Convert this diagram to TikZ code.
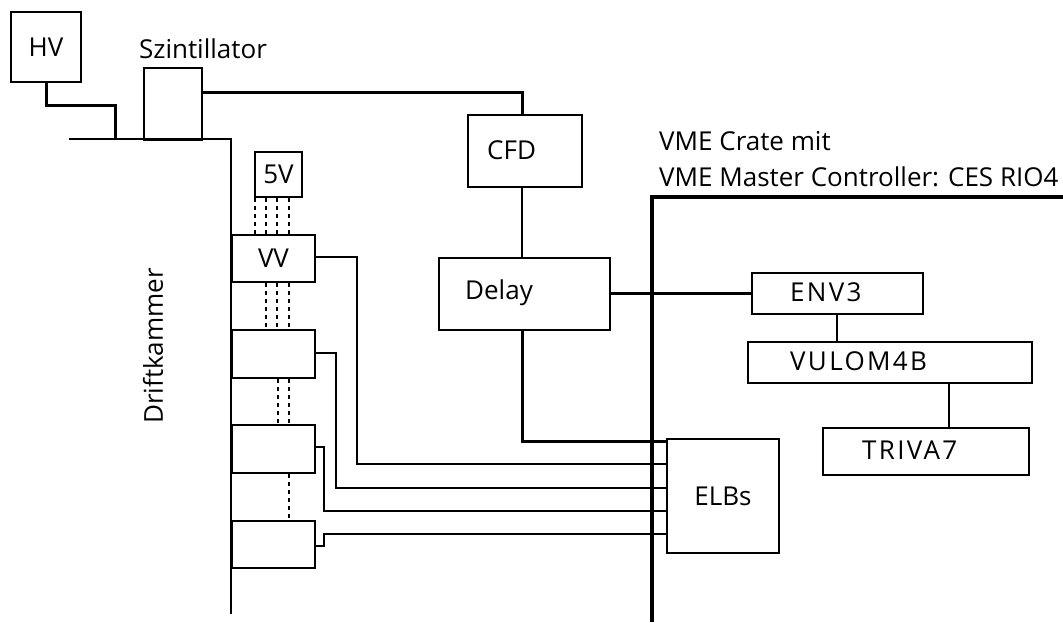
\documentclass[tikz,border=0pt]{standalone}
\usepackage{fontspec}
\setmainfont{Open Sans}
\newfontfamily\wideface{Open Sans}[LetterSpace=9]
\usepackage{tikz}
\usetikzlibrary{positioning,calc}
\tikzset{
  blk/.style={draw,line width=2pt,inner sep=0pt,anchor=north west},
  lbl/.style={inner sep=0pt,font=\fontsize{26}{30}\selectfont},
  widelbl/.style={lbl,font=\fontsize{26}{30}\selectfont\wideface},
  wire/.style={line width=2pt},
  thickwire/.style={line width=3pt},
  crate/.style={line width=3.5pt},
  bus/.style={line width=2.5pt,dash pattern=on 4pt off 4pt}
}
\begin{document}
\begin{tikzpicture}[x=1pt,y=-1pt]
\useasboundingbox (0,0) rectangle (1063,622);
% left part: chamber, scintillator, preamps
\node[blk,minimum width=70pt,minimum height=70pt] (hv) at (10,11) {};
\node[lbl] (hv-t) at (hv.center) {HV};
\node[blk,minimum width=58pt,minimum height=72pt] (szint) at (143,67) {};
\node[lbl] (szint-t) at (203,49) {Szintillator};
\node[blk,minimum width=47pt,minimum height=45pt] (fivev) at (254,151) {};
\node[lbl] (fivev-t) at (fivev.center) {5V};
\node[blk,minimum width=83pt,minimum height=47pt] (vv) at (231,234) {};
\node[lbl] (vv-t) at (vv.center) {VV};
\node[blk,minimum width=83pt,minimum height=48pt] (b2) at (231,329) {};
\node[blk,minimum width=83pt,minimum height=48pt] (b3) at (231,424) {};
\node[blk,minimum width=83pt,minimum height=47pt] (b4) at (231,520) {};
\node[lbl,rotate=90] (drift) at (153,346) {Driftkammer};
% electronics
\node[blk,minimum width=114pt,minimum height=72pt] (cfd) at (467,114) {};
\node[lbl,anchor=west] (cfd-t) at (487,150) {CFD};
\node[blk,minimum width=171pt,minimum height=72pt] (delay) at (438,257) {};
\node[lbl,anchor=west] (delay-t) at (465,293) {Delay};
\node[blk,minimum width=112pt,minimum height=114pt] (elbs) at (666,438) {};
\node[lbl] (elbs-t) at (elbs.center) {ELBs};
\node[blk,minimum width=171pt,minimum height=41pt] (env) at (751,272) {};
\node[widelbl,anchor=west] (env-t) at (790,292) {ENV3};
\node[blk,minimum width=284pt,minimum height=41pt] (vulom) at (747,341) {};
\node[widelbl,anchor=west] (vulom-t) at (790,361) {VULOM4B};
\node[blk,minimum width=206pt,minimum height=47pt] (triva) at (822,427) {};
\node[widelbl,anchor=west] (triva-t) at (862,450) {TRIVA7};
\node[lbl,anchor=base west,align=left] (vme-t) at (659,186) {VME Crate mit\\[6pt]VME Master Controller: CES RIO4};
% crate outline
\coordinate (crate-bot) at (652,622);
\coordinate (crate-top) at (652,197);
\coordinate (crate-end) at (1063,197);
\draw[crate] (crate-bot) -- (crate-top) -- (crate-end);
% chamber wire
\coordinate (ch-left) at (69,139);
\coordinate (ch-bot) at (231,614);
\draw[wire] (ch-left) -- (ch-left -| vv.north west) -- (ch-bot);
% connections
\draw[thickwire] (hv.south) |- (115,105) -- (115,139);
\draw[thickwire] (szint.east |- 0,92) -| (522,0 |- cfd.north);
\draw[wire] (522,0 |- cfd.south) -- (522,0 |- delay.north);
\draw[thickwire] (delay.east |- 0,293) -- (env.west |- 0,293);
\draw[thickwire] (522,0 |- delay.south) |- (elbs.north west |- 0,441);
\draw[wire] (env.south -| 837,0) -- (vulom.north -| 837,0);
\draw[wire] (vulom.south -| 949,0) -- (triva.north -| 949,0);
\draw[wire] (vv.east |- 0,257) -| (357,464) -- (elbs.west |- 0,464);
\draw[wire] (b2.east |- 0,353) -| (336,488) -- (elbs.west |- 0,488);
\draw[wire] (b3.east |- 0,447) -| (324,511) -- (elbs.west |- 0,511);
\draw[wire] (b4.east |- 0,546) -| (324,534) -- (elbs.west |- 0,534);
% supply lines
\foreach \x in {255,266,277,289} \draw[bus] (\x,0 |- fivev.south) -- (\x,0 |- vv.north);
\foreach \x in {266,277,289} \draw[bus] (\x,0 |- vv.south) -- (\x,0 |- b2.north);
\foreach \x in {278,289} \draw[bus] (\x,0 |- b2.south) -- (\x,0 |- b3.north);
\draw[bus] (289,0 |- b3.south) -- (289,0 |- b4.north);
\end{tikzpicture}
\end{document}
